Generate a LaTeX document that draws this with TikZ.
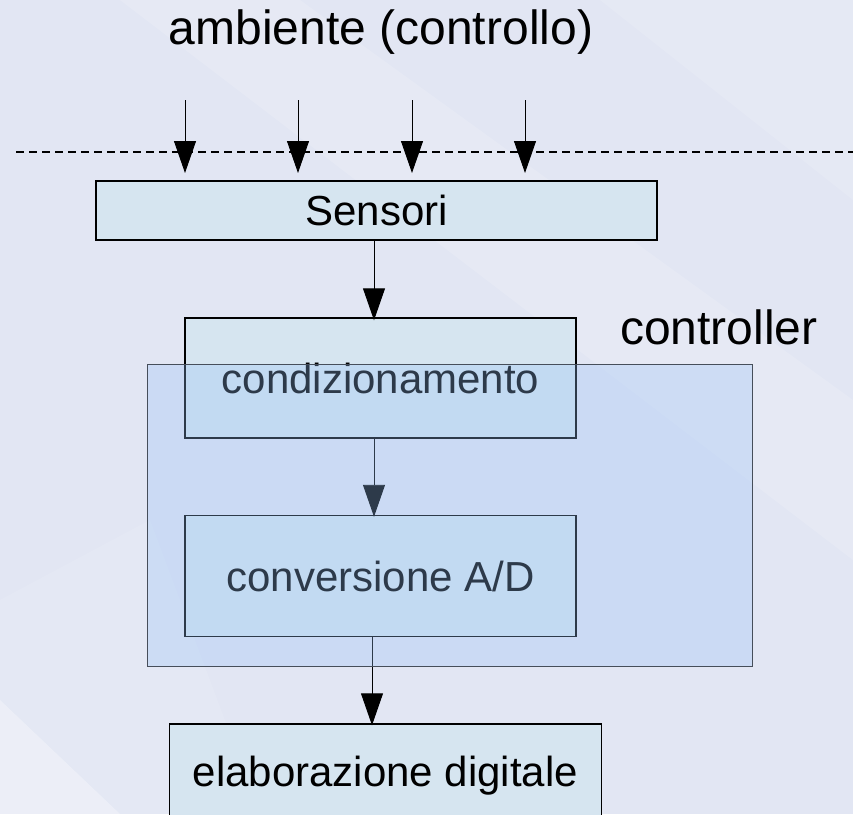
\documentclass[tikz,border=0pt]{standalone}
\usepackage{fontspec}
\setmainfont{Liberation Sans}
\usetikzlibrary{arrows.meta}
\definecolor{bgc}{RGB}{226,230,243}
\definecolor{boxc}{RGB}{214,229,240}
\definecolor{ctrlc}{RGB}{150,193,247}
\definecolor{ctrlline}{RGB}{70,78,90}
\tikzset{
  box/.style={draw=black, line width=1.4pt, fill=boxc, inner sep=0pt, font=\fontsize{42}{50}\selectfont},
  arr/.style={line width=0.9pt, -{Triangle[length=32pt,width=22pt]}},
  bigtext/.style={font=\fontsize{48}{56}\selectfont, inner sep=0pt},
}
\begin{document}
\begin{tikzpicture}[x=1pt,y=-1pt]
\useasboundingbox (0,0) rectangle (853,814);
\clip (0,0) rectangle (853,814);
% background
\fill[bgc] (0,0) rectangle (853,814);
\fill[white, opacity=0.15] (120,0) -- (300,0) -- (853,400) -- (853,560) -- cycle;
\fill[white, opacity=0.10] (0,600) -- (150,520) -- (260,814) -- (0,814) -- cycle;
\fill[white, opacity=0.3] (0,700) -- (120,814) -- (0,814) -- cycle;
\fill[white, opacity=0.12] (600,0) -- (853,0) -- (853,200) -- cycle;

% title
\node[bigtext, anchor=base] (title) at (381,44) {ambiente (controllo)};

% dashed boundary
\coordinate (dl) at (16,152);
\coordinate (dr) at (853,152);
\draw[line width=1.6pt, dash pattern=on 8pt off 5pt] (dl) -- (dr);

% input arrows
\foreach \i/\xx in {1/185,2/298,3/412,4/525}{
  \coordinate (in\i) at (\xx,100);
  \coordinate (tip\i) at (\xx,173);
  \draw[arr] (in\i) -- (tip\i);
}

% boxes
\node[box, minimum width=561pt, minimum height=59pt] (sens) at (376.5,210.5) {Sensori};
\node[box, minimum width=391pt, minimum height=120pt] (cond) at (380.5,378) {condizionamento};
\node[box, minimum width=391pt, minimum height=121pt] (conv) at (380.5,576) {conversione A/D};
\node[box, minimum width=432pt, minimum height=104pt] (elab) at (385.5,776) {elaborazione digitale};

\coordinate (ax) at (374,0);
\coordinate (bx) at (372,0);
\draw[arr] (sens.south -| ax) -- ([yshift=-3pt]cond.north -| ax);
\draw[arr] (cond.south -| ax) -- ([yshift=-2pt]conv.north -| ax);
\draw[arr] (conv.south -| bx) -- ([yshift=-2pt]elab.north -| bx);

% controller overlay
\node[draw=ctrlline, line width=1pt, fill=ctrlc, fill opacity=0.3, draw opacity=1,
      minimum width=605pt, minimum height=302pt, inner sep=0pt] (ctrl) at (449.5,515) {};
\node[bigtext, anchor=base west] (ctrllabel) at (620,344) {controller};
\end{tikzpicture}
\end{document}
